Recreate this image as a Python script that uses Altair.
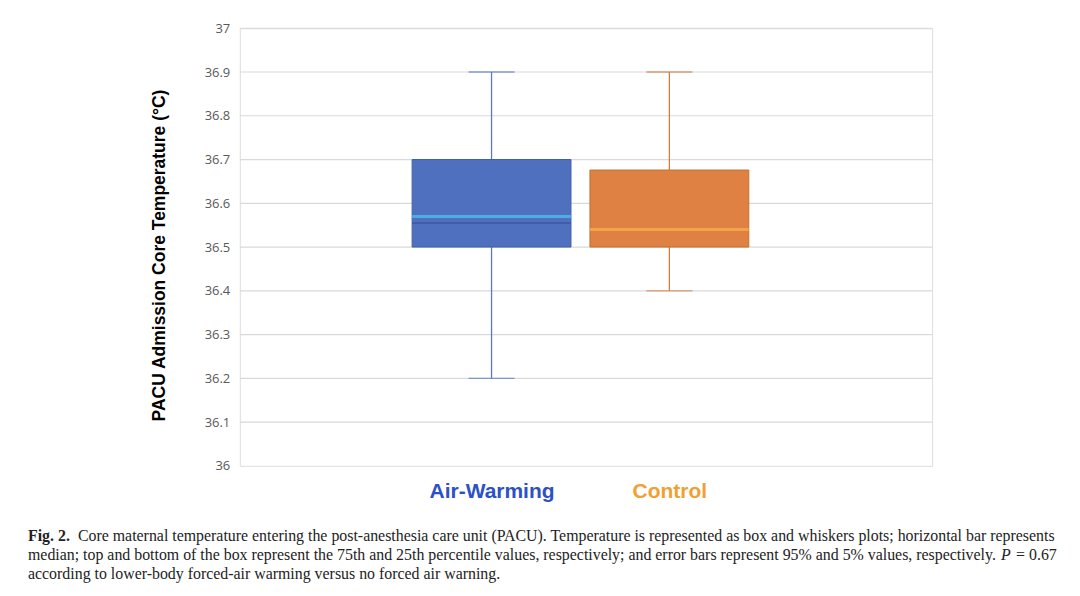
import altair as alt
import pandas as pd

groups = ["Air-Warming", "Control"]
p5 = [36.2, 36.4]
q1 = [36.5, 36.5]
median = [36.57, 36.54]
q3 = [36.7, 36.676]
p95 = [36.9, 36.9]
inner_line_group = ["Air-Warming"]
inner_line_value = [36.555]
y_ticks = [36.0, 36.1, 36.2, 36.3, 36.4, 36.5, 36.6, 36.7, 36.8, 36.9, 37.0]

fill_colors = ["#4E70BE", "#DE8143"]
edge_colors = ["#3F5FA8", "#C86E30"]
median_colors = ["#4FC6F5", "#F5B548"]
whisker_colors = ["#5A78C4", "#D27B43"]

caption_fig = "Fig. 2."
caption_lines = [
    "Core maternal temperature entering the post-anesthesia care unit (PACU). Temperature is represented as box and whiskers plots; horizontal bar represents",
    "median; top and bottom of the box represent the 75th and 25th percentile values, respectively; and error bars represent 95% and 5% values, respectively.",
    "according to lower-body forced-air warming versus no forced air warning.",
]
caption_p = "P"
caption_pval = "= 0.67"

df = pd.DataFrame({"group": groups, "p5": p5, "q1": q1, "median": median,
                   "q3": q3, "p95": p95})
inner = pd.DataFrame({"group": inner_line_group, "v": inner_line_value})
grid_df = pd.DataFrame({"y": y_ticks[1:]})

W, H = 693, 438
xscale = alt.Scale(type="point", domain=groups, range=[252, 430], padding=0)
yscale = alt.Scale(domain=[36, 37], nice=False, zero=False)


def cscale(rng):
    return alt.Color("group:N", scale=alt.Scale(domain=groups, range=rng), legend=None)


xaxis = alt.Axis(title=None, labelAngle=0, domain=False, ticks=False, grid=False,
                 labelFont="Liberation Sans", labelFontWeight="bold", labelFontSize=21,
                 labelPadding=15,
                 labelColor=alt.expr("datum.value == 'Air-Warming' ? '#2B50C8' : '#F2A033'"))
yaxis = alt.Axis(title="PACU Admission Core Temperature (°C)", values=y_ticks,
                 format=".1~f", domain=False, ticks=False, grid=False,
                 labelFont="Open Sans", labelFontSize=13, labelColor="#595959", labelPadding=10,
                 titleFont="Liberation Sans", titleFontWeight="bold", titleFontSize=17.5,
                 titleColor="#000000", titlePadding=36, titleY=H / 2 + 8)

X = alt.X("group:N", scale=xscale, sort=groups)
base = alt.Chart(df)

grid = alt.Chart(grid_df).mark_rule(color="#D9D9D9", strokeWidth=1.2).encode(
    y=alt.Y("y:Q", scale=yscale, axis=yaxis), x=alt.value(0), x2=alt.value(W))

whisker = base.mark_rule(strokeWidth=1.3).encode(
    x=alt.X("group:N", scale=xscale, axis=xaxis, sort=groups),
    y=alt.Y("p5:Q", scale=yscale),
    y2="p95:Q",
    color=cscale(whisker_colors),
)
caps_lo = base.mark_tick(size=46, thickness=1.3, orient="horizontal").encode(
    x=X, y=alt.Y("p5:Q", scale=yscale), color=cscale(whisker_colors))
caps_hi = base.mark_tick(size=46, thickness=1.3, orient="horizontal").encode(
    x=X, y=alt.Y("p95:Q", scale=yscale), color=cscale(whisker_colors))
box = base.mark_bar(size=159, strokeWidth=1).encode(
    x=X, y=alt.Y("q1:Q", scale=yscale), y2="q3:Q",
    color=cscale(fill_colors),
    stroke=alt.Stroke("group:N", scale=alt.Scale(domain=groups, range=edge_colors), legend=None))
inner_rule = alt.Chart(inner).mark_tick(size=159, thickness=2, color="#3A55A0", orient="horizontal").encode(
    x=X, y=alt.Y("v:Q", scale=yscale))
med = base.mark_tick(size=159, thickness=3, orient="horizontal").encode(
    x=X, y=alt.Y("median:Q", scale=yscale), color=cscale(median_colors))

cap_font = "Liberation Serif"
cap_size = 15.9
cap_color = "#222222"


def cap_text(txt, x, y, **kw):
    return alt.Chart(pd.DataFrame({"t": [txt]})).mark_text(
        font=cap_font, fontSize=cap_size, align="left", baseline="alphabetic", color=cap_color, **kw
    ).encode(text="t:N", x=alt.value(x), y=alt.value(y))


caps = [
    cap_text(caption_fig, -212, 513, fontWeight="bold"),
    cap_text(caption_lines[0], -162, 513),
    cap_text(caption_lines[1], -212, 532),
    cap_text(caption_p, 762, 532, fontStyle="italic"),
    cap_text(caption_pval, 777, 532),
    cap_text(caption_lines[2], -212, 551),
]

chart = alt.layer(grid, whisker, caps_lo, caps_hi, box, inner_rule, med, *caps).resolve_scale(
    color="independent", stroke="independent"
).properties(
    width=W, height=H,
    autosize=alt.AutoSizeParams(type="none"),
    padding={"left": 232, "top": 20, "right": 140, "bottom": 120},
).configure_view(
    stroke="#A3B1DE", strokeWidth=1.5, strokeDash=[1.5, 1]
).configure(background="white")

chart.save("out.html", embed_options={"renderer": "svg", "actions": False})
